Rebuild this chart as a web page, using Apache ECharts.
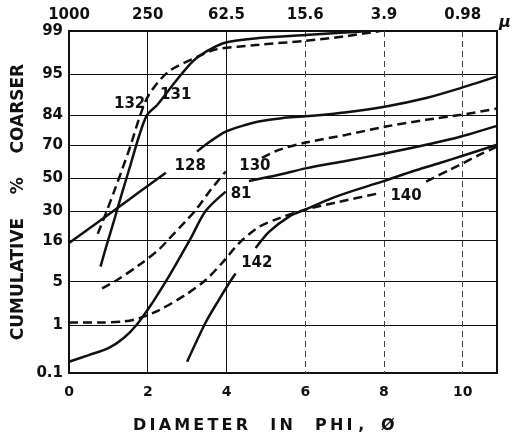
<!DOCTYPE html>
<html>
<head>
<meta charset="utf-8">
<script src="https://cdn.jsdelivr.net/npm/echarts/dist/echarts.min.js"></script>
<style>
  html, body { margin: 0; padding: 0; background: #fff; }
  #chart { width: 516px; height: 440px; }
</style>
</head>
<body>
<div id="chart"></div>
<script>
// tick values of the probability axis and of the phi / micron axes
var yTicks = [0.1, 1, 5, 16, 30, 50, 70, 84, 95, 99];
var phiTicks = [0, 2, 4, 6, 8, 10];
var micronLabels = ['1000', '250', '62.5', '15.6', '3.9', '0.98'];

// curves: [phi, cumulative % coarser], null = break in the line (label gap)
var c132 = [[0.73,18.8],[0.96,30],[1.16,42.5],[1.36,56],[1.57,70],[1.81,84],[2.03,90.6],[2.53,95.4],[3.3,97.3],[3.72,97.9],[4.82,98.25],[6.0,98.5],[7.0,98.75],[7.9,99]];
var c131 = [[0.8,8],[0.96,14.5],[1.13,24],[1.34,40],[1.56,58],[1.77,74],[1.98,84],[2.24,87.6],[2.7,93.6],[3.13,96.7],[3.47,97.7],[3.98,98.4],[4.82,98.66],[6.0,98.82],[7.0,98.93],[7.6,99]];
var c128 = [[0,15.1],[0.75,24.4],[1.52,36.5],[1.98,44.6],[2.46,53.2],null,[3.25,66.2],[3.6,72],[3.98,76.8],[4.4,79.5],[4.82,81.4],[5.4,82.8],[6.0,83.5],[7.0,85],[8.05,87.1],[9.07,89.7],[9.96,92.3],[10.87,94.6]];
var c130 = [[0.84,4.0],[1.22,5.3],[1.77,8.3],[2.28,12.8],[2.53,16.5],[2.96,24.6],[3.21,30.3],[3.6,42.5],[3.98,54],null,[4.9,62.4],[5.33,67.1],[6.01,71.2],[7.03,75.2],[8.05,79.2],[9.07,82.1],[9.96,84.1],[10.87,86.4]];
var c81 = [[0,0.18],[0.5,0.25],[1.0,0.35],[1.39,0.56],[1.72,1.0],[2.08,2.2],[2.49,5.4],[2.79,9.9],[3.09,16.9],[3.47,30],[3.98,41.4],null,[4.57,48],[5.33,52],[6.01,56],[7.03,60.6],[8.05,65.2],[9.07,70],[9.96,74.4],[10.87,79.5]];
var c142 = [[3.0,0.18],[3.47,1.1],[3.81,2.7],[4.09,5],[4.23,6.5],null,[4.74,13.3],[5.08,19.6],[5.59,27],[6.03,31],[6.68,37.4],[7.11,41.1],[7.95,47.6],[8.81,54.8],[9.5,59.9],[10.0,63.7],[10.87,70]];
var c140 = [[0,1.1],[0.75,1.1],[1.39,1.15],[1.77,1.3],[2.28,1.8],[2.96,3.2],[3.47,5.3],[3.89,8.9],[4.32,15.1],[4.82,21.8],[5.33,26.1],[5.97,30.6],[6.86,35.2],[7.88,40.4],null,[9.07,47.7],[9.66,55],[10.51,65.2],[10.87,69]];

// curve names placed at [phi, %]
var curveLabels = [['132',1.54,87.9],['131',2.71,90.6],['128',3.08,57.2],['130',4.72,57.2],['81',4.37,40],['142',4.77,8.9],['140',8.56,38.8]];

// inverse normal cdf (Acklam) -> probability paper scale
function probit(p) {
    var a = [-3.969683028665376e+01, 2.209460984245205e+02, -2.759285104469687e+02, 1.383577518672690e+02, -3.066479806614716e+01, 2.506628277459239e+00];
    var b = [-5.447609879822406e+01, 1.615858368580409e+02, -1.556989798598866e+02, 6.680131188771972e+01, -1.328068155288572e+01];
    var c = [-7.784894002430293e-03, -3.223964580411365e-01, -2.400758277161838e+00, -2.549671010584595e+00, 4.374664141464968e+00, 2.938163982698783e+00];
    var d = [7.784695709041462e-03, 3.224671290700398e-01, 2.445134137142996e+00, 3.754408661907416e+00];
    var pl = 0.02425, q, r;
    if (p < pl) {
        q = Math.sqrt(-2 * Math.log(p));
        return (((((c[0]*q+c[1])*q+c[2])*q+c[3])*q+c[4])*q+c[5]) / ((((d[0]*q+d[1])*q+d[2])*q+d[3])*q+1);
    }
    if (p <= 1 - pl) {
        q = p - 0.5; r = q * q;
        return (((((a[0]*r+a[1])*r+a[2])*r+a[3])*r+a[4])*r+a[5])*q / (((((b[0]*r+b[1])*r+b[2])*r+b[3])*r+b[4])*r+1);
    }
    q = Math.sqrt(-2 * Math.log(1 - p));
    return -(((((c[0]*q+c[1])*q+c[2])*q+c[3])*q+c[4])*q+c[5]) / ((((d[0]*q+d[1])*q+d[2])*q+d[3])*q+1);
}
function pz(pct) { return probit(pct / 100); }

var yTickZ = yTicks.map(pz);
var font = 'DejaVu Sans';

function curve(name, pts, dashed) {
    return {
        name: name,
        type: 'line',
        symbol: 'none',
        smooth: 0.3,
        connectNulls: false,
        silent: true,
        lineStyle: { color: '#111', width: 2.5, type: dashed ? [9, 5] : 'solid' },
        data: pts.map(function (p) { return p ? [p[0], pz(p[1])] : ['-', '-']; })
    };
}

var myChart = echarts.init(document.getElementById('chart'));
var option = {
    animation: false,
    backgroundColor: '#fff',
    grid: { left: 69, right: 19, top: 31, bottom: 67, show: true, borderColor: '#111', borderWidth: 2 },
    xAxis: [{
        type: 'value', position: 'bottom', min: 0, max: 10.87,
        axisLine: { show: false },
        axisTick: { show: false, customValues: [2, 4] },
        axisLabel: { customValues: phiTicks, margin: 12, fontSize: 14, fontWeight: 'bold', fontFamily: font, color: '#111' },
        splitLine: { show: true, lineStyle: { color: '#111', width: 1 } }
    }, {
        type: 'value', position: 'top', min: 0, max: 10.87,
        axisLine: { show: false },
        axisTick: { show: false, customValues: [6, 8, 10] },
        axisLabel: {
            customValues: phiTicks, margin: 8, fontSize: 15, fontWeight: 'bold', fontFamily: font, color: '#111',
            formatter: function (v) { return micronLabels[phiTicks.indexOf(v)]; }
        },
        splitLine: { show: true, lineStyle: { color: '#444', width: 1, type: [6, 4] } }
    }],
    yAxis: {
        type: 'value', min: pz(0.1), max: pz(99),
        axisLine: { show: false },
        axisTick: { show: false, customValues: yTickZ.slice(1, -1) },
        axisLabel: {
            customValues: yTickZ, margin: 6, fontSize: 15, fontWeight: 'bold', fontFamily: font, color: '#111',
            formatter: function (v) {
                for (var i = 0; i < yTickZ.length; i++) {
                    if (Math.abs(yTickZ[i] - v) < 1e-6) return String(yTicks[i]);
                }
                return '';
            }
        },
        splitLine: { show: true, lineStyle: { color: '#111', width: 1.2 } }
    },
    series: [
        curve('132', c132, true),
        curve('131', c131, false),
        curve('128', c128, false),
        curve('130', c130, true),
        curve('81', c81, false),
        curve('142', c142, false),
        curve('140', c140, true),
        {
            type: 'scatter',
            silent: true,
            symbolSize: 0,
            itemStyle: { color: '#111', opacity: 1 },
            label: {
                show: true, position: 'inside', fontSize: 15, fontWeight: 'bold', fontFamily: font,
                color: '#111', textBorderWidth: 0, textBorderColor: 'transparent',
                formatter: function (p) { return p.data[2]; }
            },
            data: curveLabels.map(function (l) { return [l[1], pz(l[2]), l[0]]; })
        }
    ],
    graphic: [{
        type: 'text', left: 133, top: 418,
        style: { text: 'D\u2009I\u2009A\u2009M\u2009E\u2009T\u2009E\u2009R    I\u2009N    P\u2009H\u2009I ,   \u00d8', font: 'bold 16px "DejaVu Sans"', fill: '#111' }
    }, {
        type: 'text', x: 19, y: 202, rotation: Math.PI / 2,
        style: { text: 'CUMULATIVE    %    COARSER', font: 'bold 17px "DejaVu Sans"', fill: '#111', align: 'center', verticalAlign: 'middle' }
    }, {
        type: 'text', left: 499, top: 15,
        style: { text: '\u03bc', font: 'italic bold 16px "DejaVu Sans"', fill: '#111' }
    }]
};
myChart.setOption(option);
</script>
</body>
</html>
